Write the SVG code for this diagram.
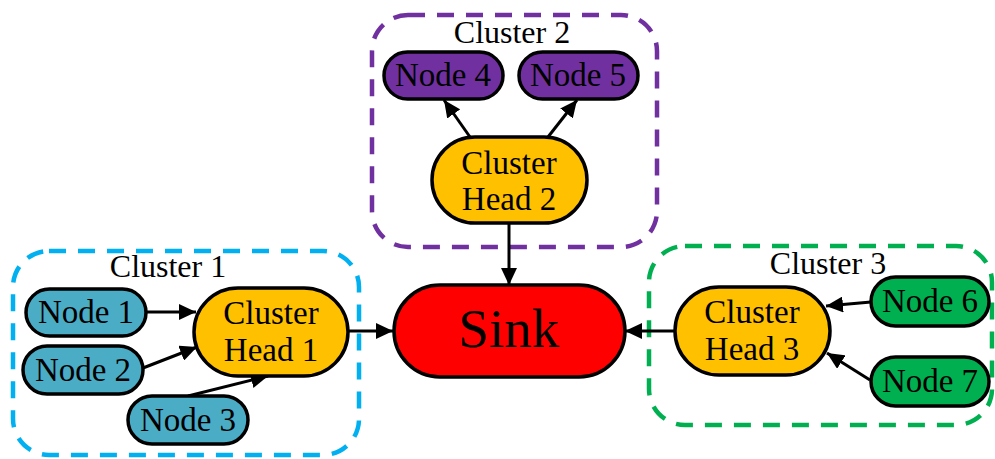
<svg xmlns="http://www.w3.org/2000/svg" width="995" height="459" viewBox="0 0 995 459">
<style>
text{font-family:"Liberation Serif","DejaVu Serif",serif;fill:#000;text-anchor:middle}
.lbl{font-size:33px}
.cl{font-size:32px}
.nd{stroke:#000;stroke-width:3.5}
.box{fill:none;stroke-width:4.5;stroke-dasharray:17 12}
.c1{fill:#4BACC6}.c2{fill:#7030A0}.c3{fill:#00B050}.ch{fill:#FFC000}
.edge{stroke:#000;stroke-width:3;fill:none;marker-end:url(#ah)}
</style>
<defs>
<marker id="ah" markerUnits="userSpaceOnUse" markerWidth="18" markerHeight="16" refX="17" refY="8" orient="auto">
<path d="M0,0 L17,8 L0,16 z" fill="#000"/>
</marker>
</defs>
<rect width="995" height="459" fill="#fff"/>
<g id="cluster1">
<rect class="box" x="13" y="251" width="346" height="204" rx="36" stroke="#00B0F0"/>
<text class="cl" x="168" y="277">Cluster 1</text>
</g>
<g id="cluster2">
<rect class="box" x="372" y="15" width="285" height="232" rx="36" stroke="#7030A0"/>
<text class="cl" x="512" y="43">Cluster 2</text>
</g>
<g id="cluster3">
<rect class="box" x="649" y="246" width="343" height="179" rx="36" stroke="#00B050"/>
<text class="cl" x="828" y="274">Cluster 3</text>
</g>
<g id="connectors">
<line class="edge" x1="146" y1="312" x2="196" y2="312"/>
<line class="edge" x1="143" y1="368" x2="197" y2="347"/>
<line class="edge" x1="188" y1="396" x2="268" y2="376"/>
<line class="edge" x1="348" y1="331" x2="393" y2="331"/>
<line class="edge" x1="470" y1="137" x2="444" y2="100"/>
<line class="edge" x1="548" y1="137" x2="577" y2="100"/>
<line class="edge" x1="509" y1="223" x2="509" y2="285"/>
<line class="edge" x1="675" y1="331" x2="625" y2="331"/>
<line class="edge" x1="871" y1="302" x2="826" y2="306"/>
<line class="edge" x1="870" y1="380" x2="827" y2="353"/>
</g>
<g id="node1"><rect class="nd c1" x="26" y="289" width="120" height="47" rx="23.5"/><text class="lbl" x="86" y="323">Node 1</text></g>
<g id="node2"><rect class="nd c1" x="23" y="346" width="120" height="48" rx="24"/><text class="lbl" x="83" y="381">Node 2</text></g>
<g id="node3"><rect class="nd c1" x="128" y="396" width="120" height="48" rx="24"/><text class="lbl" x="188" y="431">Node 3</text></g>
<g id="head1"><rect class="nd ch" x="194" y="288" width="154" height="88" rx="44"/><text class="lbl" x="271" y="324">Cluster</text><text class="lbl" x="271" y="361">Head 1</text></g>
<g id="sink"><rect class="nd" x="394" y="285" width="231" height="92" rx="46" fill="#FF0000"/><text x="509" y="347" style="font-size:55px">Sink</text></g>
<g id="node4"><rect class="nd c2" x="384" y="52" width="119" height="47" rx="23.5"/><text class="lbl" x="443" y="86">Node 4</text></g>
<g id="node5"><rect class="nd c2" x="519" y="52" width="119" height="47" rx="23.5"/><text class="lbl" x="578" y="86">Node 5</text></g>
<g id="head2"><rect class="nd ch" x="432" y="137" width="155" height="86" rx="43"/><text class="lbl" x="509" y="174">Cluster</text><text class="lbl" x="509" y="210">Head 2</text></g>
<g id="head3"><rect class="nd ch" x="675" y="287" width="155" height="88" rx="44"/><text class="lbl" x="752" y="323">Cluster</text><text class="lbl" x="752" y="360">Head 3</text></g>
<g id="node6"><rect class="nd c3" x="871" y="277" width="118" height="49" rx="24.5"/><text class="lbl" x="930" y="312">Node 6</text></g>
<g id="node7"><rect class="nd c3" x="871" y="357" width="118" height="49" rx="24.5"/><text class="lbl" x="930" y="392">Node 7</text></g>
</svg>
